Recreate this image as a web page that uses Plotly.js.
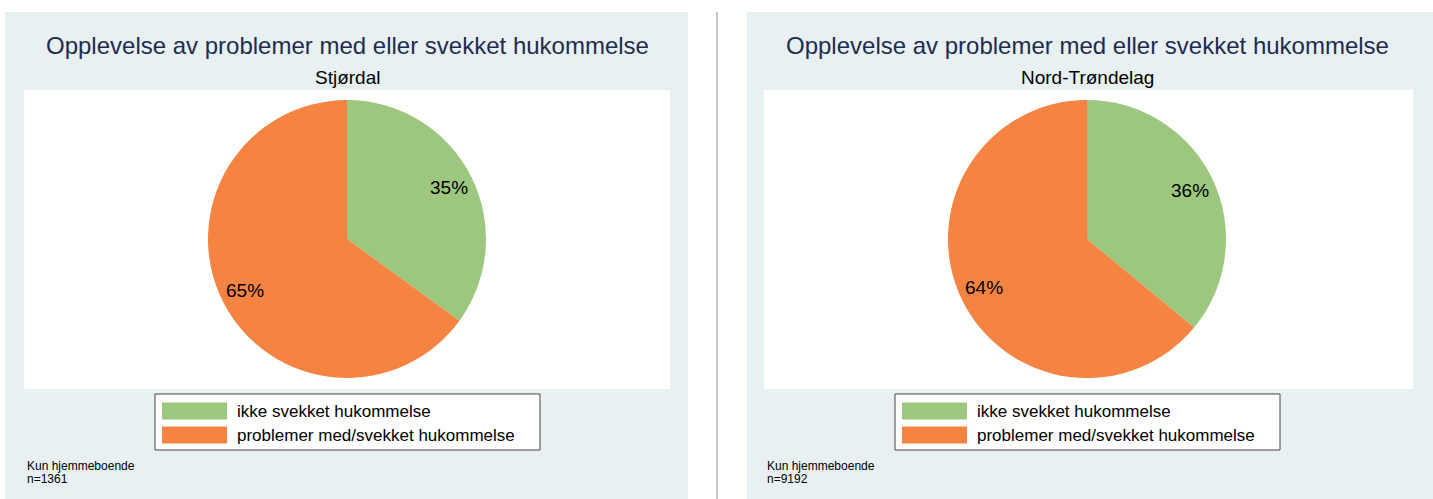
<!DOCTYPE html>
<html>
<head>
<meta charset="utf-8">
<script src="https://cdn.plot.ly/plotly-3.0.1.min.js"></script>
<style>html,body{margin:0;padding:0;background:#fff;}#chart{width:1433px;height:499px;}</style>
</head>
<body>
<div id="chart"></div>
<script>
// ---- data ----
const categories = ["ikke svekket hukommelse", "problemer med/svekket hukommelse"];
const colors = ["#9dc67e", "#f58443"];
const regions = ["Stjørdal", "Nord-Trøndelag"];
const stjordalValues = [35, 65];
const nordTrondelagValues = [36, 64];
const sampleSizes = [1361, 9192];
const mainTitle = "Opplevelse av problemer med eller svekket hukommelse";
const noteText = "Kun hjemmeboende";

// ---- layout helpers (pixel -> paper) ----
const W = 1433, H = 499;
const px = x => x / W;
const py = y => 1 - y / H;
const FONT = "Liberation Sans, Arial, Helvetica, sans-serif";

const panels = [
  {x0: 5, x1: 688, plotX0: 24, plotX1: 670, cx: 347, values: stjordalValues},
  {x0: 747, x1: 1433, plotX0: 764, plotX1: 1413, cx: 1087, values: nordTrondelagValues}
];
const cy = 239, R = 139;

const traces = [];
const shapes = [];
const annotations = [];

panels.forEach((p, i) => {
  shapes.push({type: "rect", xref: "paper", yref: "paper", x0: px(p.x0), x1: px(p.x1), y0: py(499), y1: py(12),
    fillcolor: "#e8f0f2", line: {width: 0}, layer: "below"});
  shapes.push({type: "rect", xref: "paper", yref: "paper", x0: px(p.plotX0), x1: px(p.plotX1), y0: py(389), y1: py(90),
    fillcolor: "#ffffff", line: {width: 0}, layer: "below"});

  traces.push({
    type: "pie",
    values: p.values,
    labels: categories,
    marker: {colors: colors, line: {width: 0}},
    sort: false,
    direction: "clockwise",
    rotation: 0,
    textinfo: "none",
    hoverinfo: "label+percent",
    showlegend: false,
    domain: {x: [px(p.cx - R), px(p.cx + R)], y: [py(cy + R), py(cy - R)]}
  });

  // percentage labels at slice mid-angles
  const total = p.values.reduce((a, b) => a + b, 0);
  let cum = 0;
  p.values.forEach((v, k) => {
    const mid = (cum + v / 2) / total * 2 * Math.PI;
    cum += v;
    const r = 0.82 * R;
    annotations.push({xref: "paper", yref: "paper", x: px(p.cx + r * Math.sin(mid)), y: py(cy - r * Math.cos(mid)),
      text: Math.round(v / total * 100) + "%", showarrow: false, xanchor: "center", yanchor: "middle",
      font: {family: FONT, size: 19, color: "#000"}});
  });

  // titles
  annotations.push({xref: "paper", yref: "paper", x: px(p.cx), y: py(46), text: mainTitle, showarrow: false,
    xanchor: "center", yanchor: "middle", font: {family: FONT, size: 24, color: "#1f2c50"}});
  annotations.push({xref: "paper", yref: "paper", x: px(p.cx), y: py(77), text: regions[i], showarrow: false,
    xanchor: "center", yanchor: "middle", font: {family: FONT, size: 19, color: "#000"}});

  // legend box
  const lx0 = p.cx - 192, lx1 = p.cx + 193;
  shapes.push({type: "rect", xref: "paper", yref: "paper", x0: px(lx0), x1: px(lx1), y0: py(450), y1: py(394),
    fillcolor: "#ffffff", line: {color: "#444", width: 1}});
  categories.forEach((c, k) => {
    const yc = 411 + k * 24;
    shapes.push({type: "rect", xref: "paper", yref: "paper", x0: px(lx0 + 7), x1: px(lx0 + 72), y0: py(yc + 8.5), y1: py(yc - 8.5),
      fillcolor: colors[k], line: {width: 0}});
    annotations.push({xref: "paper", yref: "paper", x: px(lx0 + 80), y: py(yc), text: c, showarrow: false,
      xanchor: "left", yanchor: "middle", font: {family: FONT, size: 17, color: "#000"}});
  });

  // notes
  annotations.push({xref: "paper", yref: "paper", x: px(p.plotX0 + 1), y: py(466), text: noteText, showarrow: false,
    xanchor: "left", yanchor: "middle", font: {family: FONT, size: 12, color: "#000"}});
  annotations.push({xref: "paper", yref: "paper", x: px(p.plotX0 + 1), y: py(479), text: "n=" + sampleSizes[i], showarrow: false,
    xanchor: "left", yanchor: "middle", font: {family: FONT, size: 12, color: "#000"}});
});

// divider
shapes.push({type: "line", xref: "paper", yref: "paper", x0: px(717), x1: px(717), y0: py(499), y1: py(12),
  line: {color: "#c8c8c8", width: 2}});

const layout = {
  width: W, height: H,
  margin: {l: 0, r: 0, t: 0, b: 0},
  paper_bgcolor: "#ffffff",
  showlegend: false,
  shapes: shapes,
  annotations: annotations,
  font: {family: FONT}
};

Plotly.newPlot("chart", traces, layout, {displayModeBar: false, staticPlot: true});
</script>
</body>
</html>
